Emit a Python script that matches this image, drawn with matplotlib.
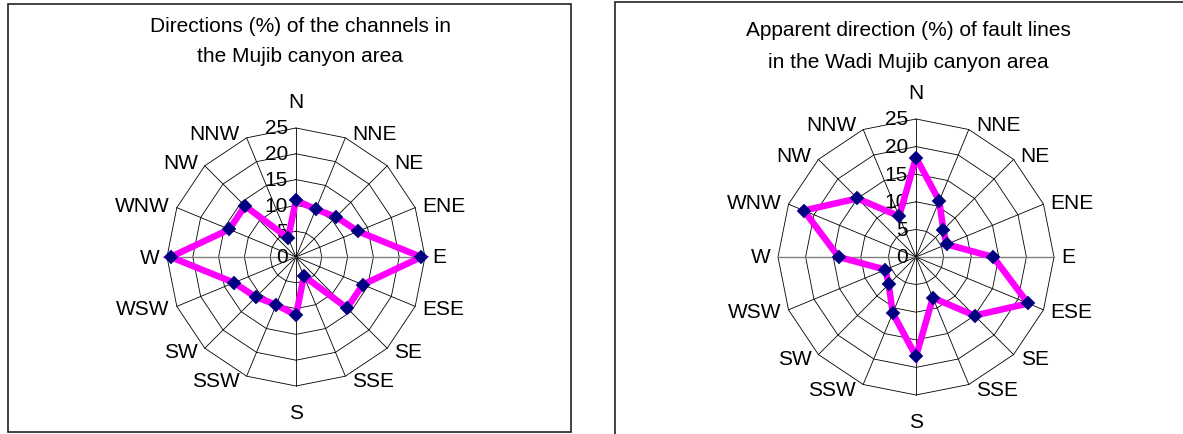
import numpy as np
import matplotlib

matplotlib.use("Agg")
import matplotlib.pyplot as plt
from matplotlib.patches import Rectangle


DIRECTIONS = ["N", "NNE", "NE", "ENE", "E", "ESE", "SE", "SSE",
              "S", "SSW", "SW", "WSW", "W", "WNW", "NW", "NNW"]

# percent of channels per direction (clockwise from N)
CHANNELS_PCT = [11, 10, 11, 13, 24.3, 14, 14, 4,
                11.3, 10, 11, 13, 24.3, 14, 14, 4]

# percent of fault lines per direction (clockwise from N)
FAULTS_PCT = [18, 11, 7, 6, 14, 22, 15, 8,
              18, 11, 7, 6, 14, 22, 15, 8]

RINGS = [0, 5, 10, 15, 20, 25]

W_PX, H_PX = 1183, 435
DPI = 100
PT = 72.0 / DPI  # points per pixel

plt.rcParams["font.family"] = ["Liberation Sans", "DejaVu Sans"]
plt.rcParams["font.size"] = 15


def radar(fig, cx, cy, radius_px, values, title_lines, title_x, title_ys):
    rmax = RINGS[-1]
    lim = 34
    half = lim / rmax * radius_px
    ax = fig.add_axes([(cx - half) / W_PX, 1 - (cy + half) / H_PX,
                       2 * half / W_PX, 2 * half / H_PX])
    ax.set_xlim(-lim, lim)
    ax.set_ylim(-lim, lim)
    ax.set_aspect("equal")
    ax.axis("off")

    theta = np.deg2rad(np.arange(len(DIRECTIONS)) * 360.0 / len(DIRECTIONS))
    sx, sy = np.sin(theta), np.cos(theta)

    # polygon rings
    for r in RINGS[1:]:
        ax.plot(np.append(sx, sx[0]) * r, np.append(sy, sy[0]) * r,
                color="black", lw=0.6, zorder=1, clip_on=False)
    # spokes, the E-W one drawn grey
    for i in range(len(DIRECTIONS)):
        col = "#808080" if DIRECTIONS[i] in ("E", "W") else "black"
        ax.plot([0, sx[i] * rmax], [0, sy[i] * rmax], color=col,
                lw=1.0 if col != "black" else 0.6, zorder=1, clip_on=False)

    # value labels on the N axis
    for r in RINGS:
        ax.annotate(str(r), (0, r), xytext=(-8 * PT, 0), textcoords="offset points",
                    ha="right", va="center", fontsize=15, zorder=2)

    # direction labels
    for i, name in enumerate(DIRECTIONS):
        if abs(sx[i]) < 0.01:
            off = (0, 17 * PT * np.sign(sy[i]))
            ha = "center"
            va = "bottom" if sy[i] > 0 else "top"
        else:
            off = (7 * PT * np.sign(sx[i]), 5 * PT * sy[i])
            ha = "left" if sx[i] > 0 else "right"
            va = "center"
        ax.annotate(name, (sx[i] * rmax, sy[i] * rmax), xytext=off,
                    textcoords="offset points", ha=ha, va=va, fontsize=15)

    v = np.asarray(values, dtype=float)
    px, py = sx * v, sy * v
    ax.plot(np.append(px, px[0]), np.append(py, py[0]), color="#FF00FF",
            lw=6.5 * PT, solid_joinstyle="miter", zorder=3, clip_on=False)
    ax.plot(px, py, linestyle="none", marker="D", ms=7.2, color="#000080",
            mec="#000080", mew=0.3, zorder=4, clip_on=False)

    for line, ty in zip(title_lines, title_ys):
        fig.text(title_x / W_PX, 1 - ty / H_PX, line, ha="center", va="center",
                 fontsize=15)


fig = plt.figure(figsize=(W_PX / DPI, H_PX / DPI), dpi=DPI)

# chart frames
fig.add_artist(Rectangle((8 / W_PX, 1 - 433 / H_PX), 563 / W_PX, 428 / H_PX,
                         transform=fig.transFigure, fill=False,
                         edgecolor="#222222", lw=1.2))
fig.add_artist(Rectangle((615 / W_PX, -0.05), 0.5, 1 - 3 / H_PX + 0.05,
                         transform=fig.transFigure, fill=False,
                         edgecolor="#222222", lw=1.2))

radar(fig, 296, 258, 129, CHANNELS_PCT,
      ["Directions (%) of the channels in", "the Mujib canyon area"],
      300, [27, 57])
radar(fig, 916, 258, 138, FAULTS_PCT,
      ["Apparent direction (%) of fault lines", "in the Wadi Mujib canyon area"],
      908, [30, 62])

fig.savefig("out.png", dpi=DPI)
